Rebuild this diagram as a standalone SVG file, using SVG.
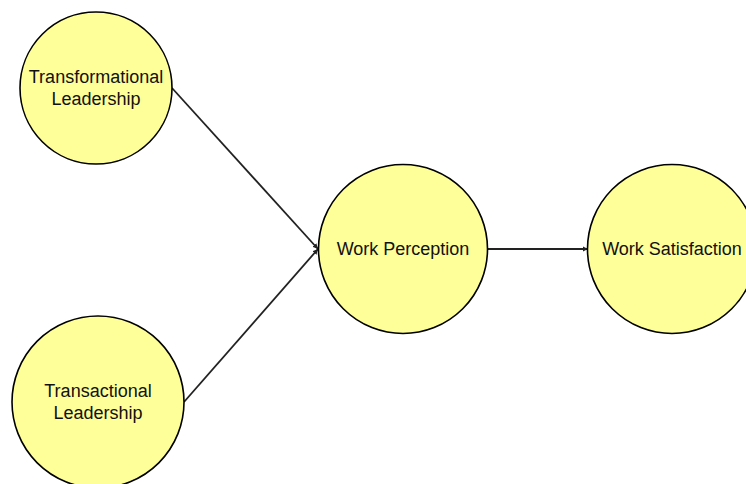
<svg xmlns="http://www.w3.org/2000/svg" width="746" height="484" viewBox="0 0 746 484">
<defs>
<style>
.node circle{fill:#FFFF99;stroke:#000;stroke-width:1.6}
.node text{font-family:"Liberation Sans",Arial,sans-serif;font-size:18px;fill:#111;text-anchor:middle}
.edge{stroke:#222;stroke-width:1.8;fill:none;marker-end:url(#ah)}
</style>
<marker id="ah" viewBox="0 0 6 6" refX="6" refY="3" markerWidth="3" markerHeight="3" orient="auto" markerUnits="strokeWidth">
<path d="M0,0 L6,3 L0,6 Z" fill="#222"/>
</marker>
</defs>
<rect width="746" height="484" fill="#fff"/>
<g id="connectors">
<line class="edge" x1="172" y1="88" x2="318" y2="249"/>
<line class="edge" x1="184" y1="402" x2="318" y2="249"/>
<line class="edge" x1="487" y1="249" x2="588" y2="249"/>
</g>
<g id="transformational" class="node">
<circle cx="96" cy="88" r="76"/>
<text x="96" y="83">Transformational</text>
<text x="96" y="105">Leadership</text>
</g>
<g id="transactional" class="node">
<circle cx="98" cy="402" r="86"/>
<text x="98" y="397">Transactional</text>
<text x="98" y="419">Leadership</text>
</g>
<g id="perception" class="node">
<circle cx="403" cy="249" r="84.5"/>
<text x="403" y="255">Work Perception</text>
</g>
<g id="satisfaction" class="node">
<circle cx="672" cy="249" r="84.5"/>
<text x="672" y="255">Work Satisfaction</text>
</g>
</svg>
